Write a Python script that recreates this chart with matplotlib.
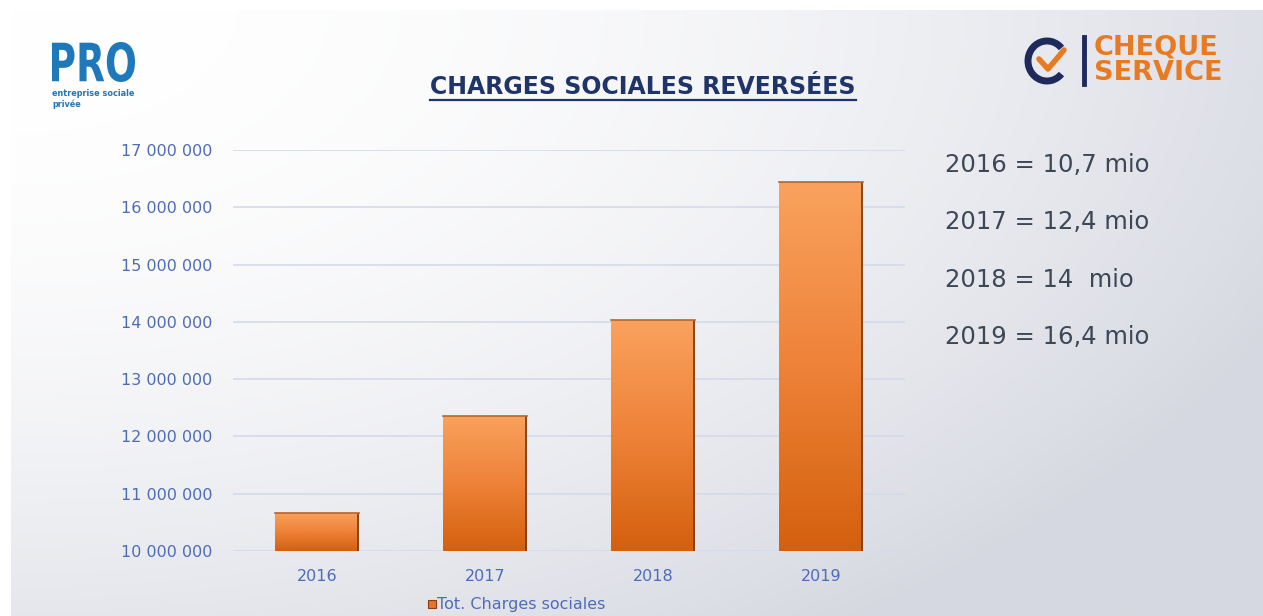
import numpy as np
import matplotlib
matplotlib.use("Agg")
import matplotlib.pyplot as plt
from matplotlib.colors import LinearSegmentedColormap
from matplotlib.patches import Rectangle, Arc
from matplotlib.textpath import TextPath
from matplotlib.patches import PathPatch
from matplotlib.transforms import Affine2D
from matplotlib.ticker import FuncFormatter

# ---- data ----
years = ["2016", "2017", "2018", "2019"]
charges = [10_670_000, 12_360_000, 14_030_000, 16_440_000]
yticks = [10_000_000, 11_000_000, 12_000_000, 13_000_000,
          14_000_000, 15_000_000, 16_000_000, 17_000_000]
side_notes = ["2016 = 10,7 mio", "2017 = 12,4 mio", "2018 = 14  mio", "2019 = 16,4 mio"]
title = "CHARGES SOCIALES REVERSÉES"
legend_label = "Tot. Charges sociales"

W, H = 1263, 616
fig = plt.figure(figsize=(W / 100, H / 100), dpi=100)
plt.rcParams['font.family'] = ['DejaVu Sans']

# ---- overlay (pixel coords) for background and decorations ----
ov = fig.add_axes([0, 0, 1, 1], zorder=0)
ov.axis("off")

# background gradient
xs = np.linspace(0, 1, 400)
ys = np.linspace(0, 1, 200)
X, Y = np.meshgrid(xs, ys)
t = np.clip(0.8 * X ** 2 + 0.62 * Y ** 2, 0, 1)
c0 = np.array([1.0, 1.0, 1.0])
c1 = np.array([0xD6, 0xD8, 0xE1]) / 255
img = c0[None, None, :] * (1 - t[..., None]) + c1[None, None, :] * t[..., None]
ov.imshow(img, extent=[11, W, H, 10], aspect="auto", interpolation="bilinear", zorder=0)
ov.set_xlim(0, W)
ov.set_ylim(H, 0)

# PRO logo
blue_logo = "#1F78BA"
tp = TextPath((0, 0), "PRO", size=10, prop=dict(family="DejaVu Sans", weight="bold"))
bb = tp.get_extents()
sx = 83 / bb.width
sy = 40 / bb.height
tr = Affine2D().translate(-bb.x0, -bb.y0).scale(sx, -sy).translate(52, 82) + ov.transData
ov.add_patch(PathPatch(tp, transform=tr, color=blue_logo, lw=0, zorder=3))
ov.text(52, 93, "entreprise sociale", fontsize=5.9, color=blue_logo, fontweight="bold",
        va="center", ha="left", zorder=3)
ov.text(52, 104, "privée", fontsize=5.9, color=blue_logo, fontweight="bold",
        va="center", ha="left", zorder=3)

# CHEQUE SERVICE logo
navy = "#1E2A5C"
orange = "#E87A22"
ov.add_patch(Arc((1047, 61), 38, 40, theta1=42, theta2=318, color=navy, lw=5, zorder=3))
ov.plot([1039, 1048, 1064], [59, 69, 50], color=orange, lw=4, solid_capstyle="round",
        solid_joinstyle="round", zorder=4)
ov.plot([1084, 1084], [37, 84], color=navy, lw=3.5, zorder=3)
ov.text(1094, 48, "CHEQUE", fontsize=19.5, color=orange, fontweight="bold",
        va="center", ha="left", zorder=3)
ov.text(1094, 73, "SERVICE", fontsize=19.5, color=orange, fontweight="bold",
        va="center", ha="left", zorder=3)

# title
title_color = "#1F3468"
tt = ov.text(643, 87, title, fontsize=17, color=title_color, fontweight="bold",
             ha="center", va="center", zorder=3)

# side notes
for i, s in enumerate(side_notes):
    ov.text(945, 165 + i * 57.3, s, fontsize=17.5, color="#3C4757",
            ha="left", va="center", zorder=3)

# legend
tick_color = "#4E6CB6"
ov.add_patch(Rectangle((428, 600), 8, 8, facecolor="#E8732A", edgecolor="#8A3F10",
                       lw=0.8, zorder=3))
ov.text(437, 604, legend_label, fontsize=11.5, color=tick_color,
        ha="left", va="center", zorder=3)

# ---- chart axes ----
ax = fig.add_axes([233 / W, (H - 551) / H, (905 - 233) / W, (551 - 150) / H], zorder=1)
ax.patch.set_alpha(0)
for sp in ax.spines.values():
    sp.set_visible(False)

x = np.arange(len(years))
ymin, ymax = yticks[0], yticks[-1]
ax.set_yticks(yticks)
ax.yaxis.grid(True, color="#D3DAEA", lw=1.2)
ax.set_axisbelow(True)
ax.yaxis.set_major_formatter(FuncFormatter(lambda v, p: f"{int(v):,}".replace(",", " ")))
ax.tick_params(axis="y", length=0, pad=15, labelsize=11.5, labelcolor=tick_color)
ax.tick_params(axis="x", length=0, pad=13, labelsize=11.5, labelcolor=tick_color)

bw = 0.5
cmap = LinearSegmentedColormap.from_list("o", ["#D4600E", "#EE8238", "#F9A25E"])
grad = np.linspace(0, 1, 256).reshape(-1, 1)
bars = ax.bar(x, charges, width=bw, color="none", edgecolor="none", zorder=2)
for xi, v, b in zip(x, charges, bars):
    im = ax.imshow(grad, extent=[xi - bw / 2, xi + bw / 2, ymin, v], origin="lower",
                   cmap=cmap, aspect="auto", zorder=2, interpolation="bilinear")
    im.set_clip_path(b)
    # right shadow
    ax.bar(xi + bw / 2 - 0.006, v - ymin, bottom=ymin, width=0.012, color="#7A3A10",
           alpha=0.85, zorder=3)
    # top edge
    ax.plot([xi - bw / 2, xi + bw / 2], [v, v], color="#B8652A", lw=1.2, zorder=4)

ax.set_xticks(x)
ax.set_xticklabels(years)
ax.set_xlim(-0.5, len(years) - 0.5)
ax.set_ylim(ymin, ymax)

# underline title
fig.canvas.draw()
r = fig.canvas.get_renderer()
bb = tt.get_window_extent(renderer=r)
inv = ov.transData.inverted()
(x0, y0), (x1, y1) = inv.transform([(bb.x0, bb.y0), (bb.x1, bb.y1)])
ov.plot([x0, x1], [max(y0, y1) + 1, max(y0, y1) + 1], color=title_color, lw=1.6, zorder=3)

fig.savefig("out.png", dpi=100)
